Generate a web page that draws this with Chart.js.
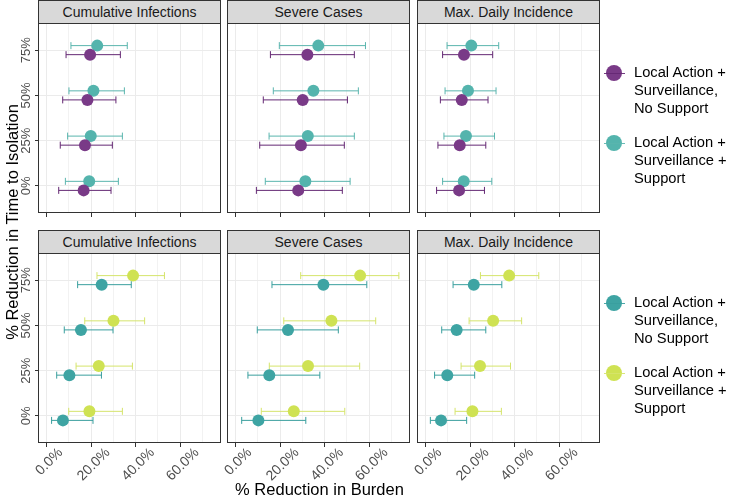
<!DOCTYPE html>
<html>
<head>
<meta charset="utf-8">
<script src="https://cdn.jsdelivr.net/npm/chart.js@4.4.0/dist/chart.umd.min.js"></script>
<style>
  body { margin: 0; background: #fff; font-family: "Liberation Sans", Arial, sans-serif; }
  #wrap { position: relative; width: 730px; height: 496px; overflow: hidden; background: #fff; }
  #wrap canvas { position: absolute; }
  .strip { position: absolute; box-sizing: border-box; height: 24px; background: #d9d9d9; border: 1px solid #333;
           font-size: 14px; line-height: 22px; color: #1a1a1a; text-align: center; white-space: nowrap; }
  .title { position: absolute; width: 400px; height: 20px; line-height: 20px; font-size: 16.5px; color: #000;
           text-align: center; white-space: nowrap; }
  .leg { position: absolute; font-size: 14.7px; line-height: 18px; color: #000; white-space: nowrap; }
  .key { position: absolute; width: 16px; height: 16px; border-radius: 50%; }
  .keyline { position: absolute; width: 21px; height: 1px; }
</style>
</head>
<body>
<div id="wrap"></div>
<script>
/* ── DATA ── */
const outcomes = ["Cumulative Infections", "Severe Cases", "Max. Daily Incidence"];
const isolationLevels = ["0%", "25%", "50%", "75%"];
const xGridValues = [0, 10, 20, 30, 40, 50, 60, 70];
const xTickValues = [0, 20, 40, 60];
const xTickLabels = ["0.0%", "20.0%", "40.0%", "60.0%"];
const seriesNames = [
  ["Local Action +", "Surveillance,", "No Support"],
  ["Local Action +", "Surveillance +", "Support"]
];

// top row — one list per outcome, values per isolation level (0%, 25%, 50%, 75%)
const topNoSupportEst = [[16.6, 17.2, 18.3, 19.5], [28.1, 29.3, 30.1, 32.2], [15.0, 15.3, 16.2, 17.2]];
const topNoSupportLo  = [[5.4, 6.1, 7.2, 8.7],     [9.3, 10.8, 12.4, 15.6], [4.9, 5.5, 6.6, 7.6]];
const topNoSupportHi  = [[28.9, 29.5, 31.1, 33.1], [47.9, 48.8, 50.2, 53.3], [26.4, 27.0, 28.0, 30.1]];
const topSupportEst   = [[19.1, 19.8, 21.0, 22.7], [31.3, 32.4, 34.9, 37.1], [17.1, 18.1, 19.0, 20.5]];
const topSupportLo    = [[8.4, 9.4, 10.0, 10.9],   [13.3, 15.0, 16.9, 19.6], [7.6, 8.2, 8.7, 9.6]];
const topSupportHi    = [[32.2, 34.0, 34.9, 36.2], [51.4, 53.3, 55.1, 58.3], [29.7, 30.9, 31.6, 32.8]];

// bottom row
const botNoSupportEst = [[7.3, 10.2, 15.4, 24.7],  [10.2, 15.1, 23.5, 39.4], [6.9, 9.7, 13.9, 21.6]];
const botNoSupportLo  = [[2.2, 4.5, 7.9, 13.9],    [2.7, 5.5, 9.7, 16.3],    [2.1, 4.0, 7.2, 12.3]];
const botNoSupportHi  = [[20.8, 24.6, 29.8, 38.0], [31.5, 37.8, 46.1, 58.9], [18.4, 22.0, 27.0, 34.2]];
const botSupportEst   = [[19.2, 23.4, 30.0, 38.8], [26.1, 32.5, 43.0, 55.9], [21.0, 24.4, 30.3, 37.5]];
const botSupportLo    = [[9.9, 13.2, 17.1, 22.6],  [11.5, 15.1, 21.6, 29.2], [13.2, 15.9, 19.5, 24.6]];
const botSupportHi    = [[34.0, 38.5, 44.0, 52.9], [49.0, 55.7, 62.9, 73.3], [34.0, 38.1, 43.1, 50.8]];

/* ── LAYOUT / STYLE ── */
const FONT = '"Liberation Sans", Arial, sans-serif';
const panelLeft = [38, 227, 417];
const panelW = 183, plotH = 190;
const X_MIN = -3.9, X_MAX = 78.3;
const DODGE = 0.1;

const rows = [
  {
    plotTop: 23, stripTop: 0, showX: false, legendY: [73, 143],
    series: [
      { est: topNoSupportEst, lo: topNoSupportLo, hi: topNoSupportHi, point: "#793a87", bar: "#642873", dy: -DODGE },
      { est: topSupportEst,   lo: topSupportLo,   hi: topSupportHi,   point: "#54b4ad", bar: "#5ab5ae", dy: DODGE }
    ]
  },
  {
    plotTop: 253, stripTop: 230, showX: true, legendY: [303, 373],
    series: [
      { est: botNoSupportEst, lo: botNoSupportLo, hi: botNoSupportHi, point: "#3ea4a3", bar: "#3a9f9e", dy: -DODGE },
      { est: botSupportEst,   lo: botSupportLo,   hi: botSupportHi,   point: "#cfe253", bar: "#d5e46b", dy: DODGE }
    ]
  }
];

const wrap = document.getElementById("wrap");

/* ── PLUGINS ── */
const framePlugin = {
  id: "frame",
  afterDraw(chart) {
    const { ctx, chartArea: a } = chart;
    ctx.save();
    ctx.strokeStyle = "#333";
    ctx.lineWidth = 1;
    ctx.strokeRect(Math.round(a.left) + 0.5, Math.round(a.top) + 0.5,
                   Math.round(a.right - a.left) - 1, Math.round(a.bottom - a.top) - 1);
    ctx.restore();
  }
};

// tick labels drawn ggplot-style: x at 45° centred on the tick, y turned 90°
const tickLabelPlugin = {
  id: "ticklabels",
  afterDraw(chart, args, opts) {
    const { ctx, chartArea: a } = chart;
    ctx.save();
    ctx.fillStyle = "#4d4d4d";
    ctx.textAlign = "center";
    ctx.textBaseline = "middle";
    if (opts.showX) {
      const sx = chart.scales.x;
      const size = 14;
      ctx.font = `${size}px ${FONT}`;
      xTickValues.forEach((v, i) => {
        const txt = xTickLabels[i];
        const w = ctx.measureText(txt).width;
        const h = size * 0.72;
        ctx.save();
        ctx.translate(sx.getPixelForValue(v) + 2.5, a.bottom + 4 + 0.7071 * (w + h) / 2);
        ctx.rotate(-Math.PI / 4);
        ctx.fillText(txt, 0, 0);
        ctx.restore();
      });
    }
    if (opts.showY) {
      const sy = chart.scales.y;
      ctx.font = `13px ${FONT}`;
      isolationLevels.forEach((txt, i) => {
        ctx.save();
        ctx.translate(a.left - 12, sy.getPixelForValue(i + 1));
        ctx.rotate(-Math.PI / 2);
        ctx.fillText(txt, 0, 0);
        ctx.restore();
      });
    }
    ctx.restore();
  }
};

/* ── PANELS ── */
function makePanel(row, col) {
  const padL = 40, padT = 10, padR = 10;
  const axisH = row.showX ? 52 : 8;
  const cv = document.createElement("canvas");
  cv.width = padL + panelW + padR;
  cv.height = padT + plotH + axisH;
  cv.style.left = (panelLeft[col] - padL) + "px";
  cv.style.top = (row.plotTop - padT) + "px";
  wrap.appendChild(cv);

  const datasets = [];
  row.series.forEach(s => {
    datasets.push({
      data: s.est[col].map((v, i) => ({ x: v, y: i + 1 + s.dy })),
      backgroundColor: s.point, borderWidth: 0,
      pointRadius: 6, pointHoverRadius: 6, order: 0
    });
    datasets.push({
      showLine: true, spanGaps: false,
      data: s.lo[col].flatMap((lo, i) => [
        { x: lo, y: i + 1 + s.dy },
        { x: s.hi[col][i], y: i + 1 + s.dy },
        { x: null, y: null }
      ]),
      borderColor: s.bar, borderWidth: 1,
      pointStyle: "line", rotation: 90, pointRadius: 3.5, pointHoverRadius: 3.5,
      pointBorderColor: s.bar, pointBorderWidth: 1, order: 1
    });
  });

  new Chart(cv, {
    type: "scatter",
    data: { datasets },
    plugins: [framePlugin, tickLabelPlugin],
    options: {
      responsive: false, animation: false, events: [],
      layout: { padding: { top: padT, right: padR, left: 0, bottom: 0 } },
      plugins: {
        legend: { display: false }, tooltip: { enabled: false },
        ticklabels: { showX: row.showX, showY: col === 0 }
      },
      scales: {
        x: {
          type: "linear", min: X_MIN, max: X_MAX,
          afterBuildTicks: s => { s.ticks = xGridValues.map(v => ({ value: v })); },
          afterFit: s => { s.height = axisH; },
          border: { display: false },
          ticks: { display: false },
          grid: {
            color: c => (c.tick && c.tick.value % 20 === 0) ? "#ebebeb" : "#f2f2f2",
            lineWidth: 1,
            drawTicks: true, tickLength: 4, tickWidth: 1,
            tickColor: c => (c.tick && c.tick.value % 20 === 0) ? "#333" : "rgba(0,0,0,0)"
          }
        },
        y: {
          type: "linear", min: 0.4, max: 4.6,
          afterBuildTicks: s => { s.ticks = isolationLevels.map((_, i) => ({ value: i + 1 })); },
          afterFit: s => { s.width = padL; },
          border: { display: false },
          grid: { color: "#ebebeb", lineWidth: 1, drawTicks: col === 0, tickLength: 3, tickColor: "#333" },
          ticks: { display: false }
        }
      }
    }
  });
}

function el(cls, css, text) {
  const d = document.createElement("div");
  d.className = cls;
  Object.assign(d.style, css);
  if (text !== undefined) d.innerHTML = text;
  wrap.appendChild(d);
  return d;
}

rows.forEach(row => {
  outcomes.forEach((name, col) => {
    el("strip", { left: panelLeft[col] + "px", top: row.stripTop + "px", width: panelW + "px" }, name);
    makePanel(row, col);
  });
  row.series.forEach((s, k) => {
    const ky = row.legendY[k];
    el("key", { left: "606px", top: (ky - 8) + "px", background: s.point });
    el("keyline", { left: "604px", top: (ky - 0.5) + "px", background: s.bar, opacity: "0.9" });
    el("leg", { left: "634px", top: (ky - 10) + "px" }, seriesNames[k].join("<br>"));
  });
});

el("title", { left: (319.5 - 200) + "px", top: (489 - 10) + "px" }, "% Reduction in Burden");
el("title", { left: (12 - 200) + "px", top: (221.5 - 10) + "px", transform: "rotate(-90deg)" },
   "% Reduction in Time to Isolation");
</script>
</body>
</html>
